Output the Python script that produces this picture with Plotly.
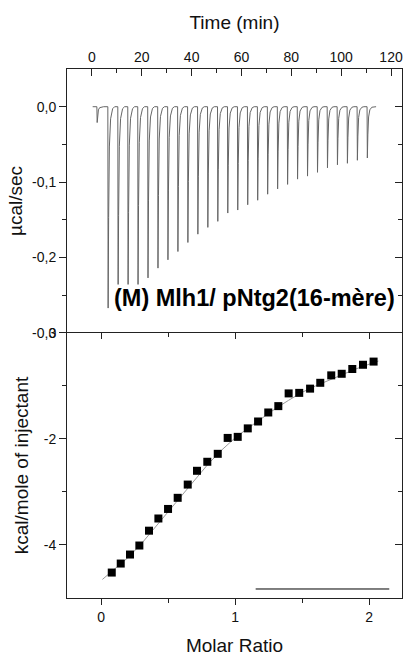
import plotly.graph_objects as go

# ---- data: raw thermogram (top panel) ----
baseline_start = 0.3
baseline_end = 114.0
inj_times = [2.1, 6.5, 10.5, 14.5, 18.5, 22.5, 26.5, 30.5, 34.5, 38.5, 42.5, 46.5, 50.5, 54.5,
             58.5, 62.5, 66.5, 70.5, 74.5, 78.5, 82.5, 86.5, 90.5, 94.5, 98.5, 102.5, 106.5, 110.5]
inj_peaks = [-0.021, -0.267, -0.262, -0.255, -0.238, -0.227, -0.214, -0.203, -0.192, -0.180,
             -0.169, -0.160, -0.152, -0.141, -0.137, -0.130, -0.124, -0.116, -0.109, -0.103,
             -0.096, -0.092, -0.087, -0.081, -0.077, -0.075, -0.071, -0.068]

# ---- data: integrated heats (bottom panel) ----
molar_ratio = [0.080, 0.147, 0.216, 0.286, 0.358, 0.428, 0.500, 0.572, 0.647, 0.716, 0.793,
               0.871, 0.945, 1.020, 1.095, 1.172, 1.248, 1.323, 1.400, 1.479, 1.560, 1.636,
               1.718, 1.796, 1.875, 1.955, 2.034]
kcal_per_mole = [-4.52, -4.35, -4.18, -4.01, -3.73, -3.50, -3.32, -3.11, -2.86, -2.60, -2.43,
                 -2.28, -1.98, -1.96, -1.80, -1.67, -1.50, -1.38, -1.14, -1.13, -1.05, -0.94,
                 -0.80, -0.77, -0.68, -0.60, -0.54]
fit_x = [0.01, 0.1, 0.2, 0.3, 0.4, 0.5, 0.6, 0.7, 0.8, 0.9, 1.0, 1.1, 1.2, 1.3, 1.4, 1.5,
         1.6, 1.7, 1.8, 1.9, 2.0, 2.07]
fit_y = [-4.65, -4.46, -4.24, -3.98, -3.68, -3.38, -3.07, -2.76, -2.47, -2.21, -1.98, -1.79,
         -1.61, -1.43, -1.27, -1.12, -1.00, -0.89, -0.78, -0.68, -0.59, -0.53]
ref_line_x = [1.154, 2.151]
ref_line_y = [-4.83, -4.83]

# tick labels
top_x_ticks = [0, 20, 40, 60, 80, 100, 120]
top_y_ticks = [0.0, -0.1, -0.2, -0.3]
top_y_labels = ["0,0", "-0,1", "-0,2", "-0,3"]
bot_x_ticks = [0, 1, 2]
bot_y_ticks = [0, -2, -4]
bot_y_labels = ["0", "-2", "-4"]

# ---- build thermogram polyline from the injection list ----
tx, ty = [baseline_start], [0.0]
for t, d in zip(inj_times, inj_peaks):
    for dt, frac in [(-0.12, 0.0), (0.0, 1.0), (0.2, 0.55), (0.5, 0.2), (1.0, 0.06), (1.8, 0.01), (2.6, 0.0)]:
        tx.append(t + dt)
        ty.append(d * frac)
tx.append(baseline_end)
ty.append(0.0)

FONT = "Liberation Sans, Arial, sans-serif"
AX = dict(showgrid=False, zeroline=False, linecolor="#222", linewidth=1, automargin=False,
          tickcolor="#222", tickfont=dict(family=FONT, size=14, color="#111"))

fig = go.Figure()
fig.add_trace(go.Scatter(x=tx, y=ty, mode="lines", line=dict(color="#666", width=1),
                         xaxis="x", yaxis="y", showlegend=False, hoverinfo="skip"))
fig.add_trace(go.Scatter(x=fit_x, y=fit_y, mode="lines", line=dict(color="#999", width=1),
                         xaxis="x2", yaxis="y2", showlegend=False))
fig.add_trace(go.Scatter(x=molar_ratio, y=kcal_per_mole, mode="markers",
                         marker=dict(symbol="square", size=8, color="black"),
                         xaxis="x2", yaxis="y2", showlegend=False))
fig.add_trace(go.Scatter(x=ref_line_x, y=ref_line_y, mode="lines",
                         line=dict(color="black", width=1),
                         xaxis="x2", yaxis="y2", showlegend=False))

split = 0.501
fig.update_layout(
    width=404, height=658,
    margin=dict(l=67, r=2, t=69, b=60, autoexpand=False),
    paper_bgcolor="white", plot_bgcolor="white",
    font=dict(family=FONT, color="#111"),
    showlegend=False,
    # top panel
    xaxis=dict(**AX, domain=[0, 1], anchor="y", side="top", range=[-10, 124.4],
               tickvals=top_x_ticks, ticks="inside", ticklen=7, showline=True,
               minor=dict(tickvals=[10, 30, 50, 70, 90, 110], ticks="inside", ticklen=4, tickcolor="#222"),
               title=dict(text="Time (min)", font=dict(family=FONT, size=19), standoff=14)),
    yaxis=dict(**AX, domain=[split, 1], anchor="x", range=[-0.3, 0.05],
               tickvals=top_y_ticks, ticktext=top_y_labels, ticks="outside", ticklen=7,
               showline=True, mirror=True,
               minor=dict(tickvals=[-0.05, -0.15, -0.25], ticks="outside", ticklen=4, tickcolor="#222"),
               title=dict(text="µcal/sec", font=dict(family=FONT, size=19), standoff=4)),
    yaxis3=dict(**AX, overlaying="y", side="right", anchor="x", range=[-0.3, 0.05],
                tickvals=top_y_ticks, ticks="inside", ticklen=7, showticklabels=False,
                showline=False,
                minor=dict(tickvals=[-0.05, -0.15, -0.25], ticks="inside", ticklen=4, tickcolor="#222")),
    # bottom panel
    xaxis2=dict(**AX, domain=[0, 1], anchor="y2", range=[-0.254, 2.246],
                tickvals=bot_x_ticks, ticks="outside", ticklen=6, showline=True, mirror=True,
                minor=dict(tickvals=[0.5, 1.5], ticks="outside", ticklen=4, tickcolor="#222"),
                title=dict(text="Molar Ratio", font=dict(family=FONT, size=19), standoff=14)),
    xaxis4=dict(**AX, overlaying="x2", side="top", anchor="y2", range=[-0.254, 2.246],
                tickvals=bot_x_ticks, ticks="inside", ticklen=6, showticklabels=False, showline=False,
                minor=dict(tickvals=[0.5, 1.5], ticks="inside", ticklen=4, tickcolor="#222")),
    yaxis2=dict(**AX, domain=[0, split], anchor="x2", range=[-5, 0],
                tickvals=bot_y_ticks, ticktext=bot_y_labels, ticks="outside", ticklen=7,
                showline=True, mirror=True,
                minor=dict(tickvals=[-1, -3], ticks="outside", ticklen=4, tickcolor="#222"),
                title=dict(text="kcal/mole of injectant", font=dict(family=FONT, size=19), standoff=10)),
    yaxis4=dict(**AX, overlaying="y2", side="right", anchor="x2", range=[-5, 0],
                tickvals=[-2, -4], ticks="inside", ticklen=7, showticklabels=False, showline=False,
                minor=dict(tickvals=[-1, -3], ticks="inside", ticklen=4, tickcolor="#222")),
)

# dummy traces so overlaying axes get rendered
fig.add_trace(go.Scatter(x=[None], y=[None], xaxis="x", yaxis="y3", showlegend=False))
fig.add_trace(go.Scatter(x=[None], y=[None], xaxis="x4", yaxis="y2", showlegend=False))
fig.add_trace(go.Scatter(x=[None], y=[None], xaxis="x2", yaxis="y4", showlegend=False))

fig.add_annotation(x=8.4, y=-0.253, xref="x", yref="y", xanchor="left", yanchor="middle",
                   text="<b>(M) Mlh1/ pNtg2(16-mère)</b>", showarrow=False,
                   font=dict(family=FONT, size=23.5, color="black"),
                   bgcolor="white", borderpad=0)

fig.write_html("out.html", config={"displayModeBar": False},
               post_script="document.body.style.margin='0px';document.body.style.overflow='hidden';")
